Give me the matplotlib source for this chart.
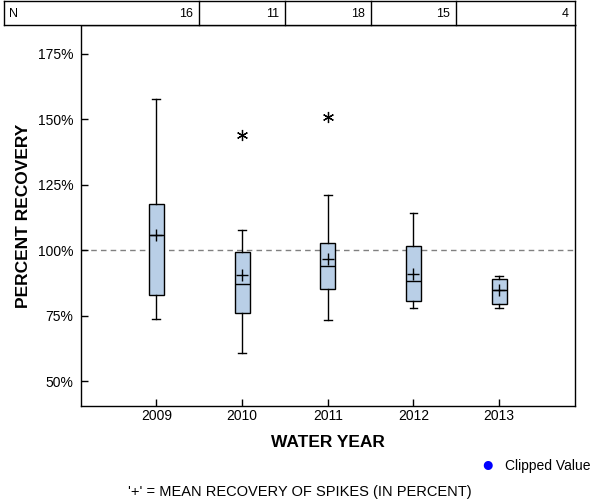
import matplotlib
matplotlib.use("Agg")
import matplotlib.pyplot as plt
from matplotlib.transforms import blended_transform_factory

plt.rcParams['font.family'] = ['Liberation Sans', 'DejaVu Sans']

# values (percent recovery)
years = [2009, 2010, 2011, 2012, 2013]
n_samples = [16, 11, 18, 15, 4]
whis_lo = [73.6, 60.8, 73.3, 77.8, 77.8]
q1 = [83.0, 75.9, 85.3, 80.5, 79.6]
medians = [106.0, 87.3, 94.1, 88.3, 84.9]
q3 = [117.7, 99.2, 102.6, 101.6, 89.1]
whis_hi = [157.8, 107.9, 121.1, 114.3, 90.1]
means = [106.0, 90.6, 96.6, 90.9, 84.7]
outliers = [[], [144.1], [151.0], [], []]

box_color = '#b9cfe7'

fig = plt.figure(figsize=(6, 5), dpi=100)
ax = fig.add_axes([80.5/600, 1 - 406/500, (575 - 80.5)/600, (406 - 25)/500])

stats = []
for i in range(len(years)):
    stats.append(dict(whislo=whis_lo[i], q1=q1[i], med=medians[i], q3=q3[i],
                      whishi=whis_hi[i], mean=means[i], fliers=outliers[i]))

ax.bxp(stats, positions=years, widths=0.175, patch_artist=True,
       showmeans=True, showcaps=True,
       boxprops=dict(facecolor=box_color, edgecolor='black', linewidth=1.0),
       medianprops=dict(color='black', linewidth=1.0),
       whiskerprops=dict(color='black', linewidth=1.0),
       capprops=dict(color='black', linewidth=1.0),
       capwidths=0.09,
       meanprops=dict(marker='+', markeredgecolor='black', markersize=9,
                      markeredgewidth=1.0),
       flierprops=dict(marker=(6, 2, 0), markeredgecolor='black',
                       markerfacecolor='black', markersize=8,
                       markeredgewidth=0.9))

ax.axhline(100, color='#808080', linestyle=(0, (4, 3)), linewidth=1.0, zorder=0)

ax.set_xlim(2008.116, 2013.884)
ax.set_ylim(40.6, 185.9)
ax.set_xticks(years)
ax.set_xticklabels([str(y) for y in years])
yt = [50, 75, 100, 125, 150, 175]
ax.set_yticks(yt)
ax.set_yticklabels(['%d%%' % v for v in yt])
ax.tick_params(direction='in', length=5, width=1, labelsize=10, colors='black')
ax.tick_params(axis='x', pad=2)
ax.tick_params(axis='y', pad=5)
for s in ax.spines.values():
    s.set_linewidth(1.0)

ax.set_xlabel('WATER YEAR', fontsize=12.5, fontweight='bold', labelpad=9)
ax.set_ylabel('PERCENT RECOVERY', fontsize=12.5, fontweight='bold', labelpad=5)

# N table at the top
tax = fig.add_axes([4/600, 1 - 25/500, (575 - 4)/600, 24/500])
tax.set_xticks([])
tax.set_yticks([])
for s in tax.spines.values():
    s.set_linewidth(1.0)
tr = blended_transform_factory(ax.transData, tax.transAxes)
for i, y in enumerate(years):
    right = y + 0.5
    if i < len(years) - 1:
        tax.plot([right, right], [0, 1], color='black', linewidth=1.0,
                 transform=tr, clip_on=False)
    else:
        right = ax.get_xlim()[1]
    tax.text(right - 0.07, 0.45, str(n_samples[i]), transform=tr,
             ha='right', va='center', fontsize=9)
tax.text(0.008, 0.45, 'N', transform=tax.transAxes, ha='left', va='center',
         fontsize=9)

# legend and footnote
fig.text(488/600, 1 - 465/500, '\u25cf', color='blue', fontsize=15,
         ha='center', va='center')
fig.text(505/600, 1 - 466/500, 'Clipped Value', fontsize=10, ha='left',
         va='center')
fig.text(300/600, 1 - 492/500, "'+' = MEAN RECOVERY OF SPIKES (IN PERCENT)",
         fontsize=10.5, ha='center', va='center')

fig.savefig('out.png', dpi=100)
